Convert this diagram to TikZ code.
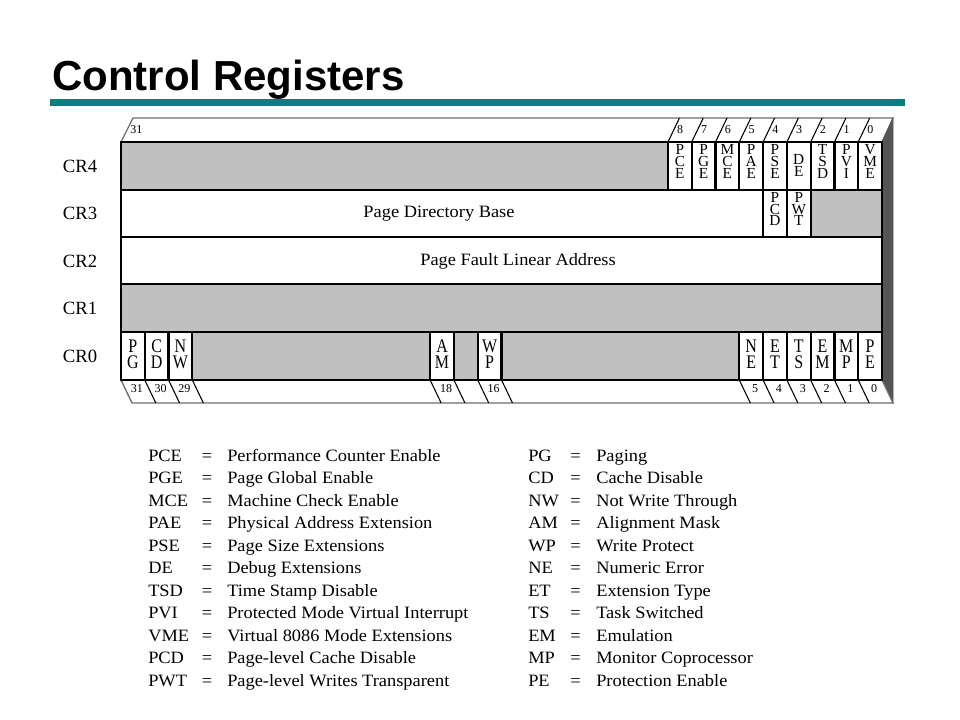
\documentclass[tikz,border=0pt]{standalone}
\usepackage{fontspec}
\setmainfont{Liberation Serif}
\setsansfont{Liberation Sans}
\newfontfamily\lgfont[FakeStretch=1.06]{Liberation Serif}
\definecolor{regray}{RGB}{192,192,192}
\definecolor{sidegray}{RGB}{85,85,85}
\definecolor{barteal}{RGB}{0,128,128}
\definecolor{facegray}{RGB}{110,110,110}
\newcommand\stackA[5]{\foreach \l [count=\j from 0] in {#5} {\node[ltA] (#1-\j) at (#2,{#3+\j*#4}) {\l};}}
\newcommand\stackB[5]{\foreach \l [count=\j from 0] in {#5} {\node[ltB] (#1-\j) at (#2,{#3+\j*#4}) {\scalebox{1}[1.2]{\l}};}}
\begin{document}
\begin{tikzpicture}[x=0.75pt,y=-0.75pt,
  front/.style={draw=black,line width=1.6pt},
  faceline/.style={draw=facegray,line width=1pt},
  slashline/.style={draw=black,line width=0.8pt},
  ltA/.style={font=\fontsize{11.5}{11.5}\selectfont,inner sep=0pt,anchor=base,text height=7.4pt,text depth=0pt},
  ltB/.style={font=\fontsize{12}{12}\selectfont,inner sep=0pt,anchor=base,text height=9.3pt,text depth=0pt},
  bitnum/.style={font=\fontsize{9}{9}\selectfont,inner sep=0pt},
  crlab/.style={font=\fontsize{14}{14}\selectfont,inner sep=0pt},
  widetxt/.style={font=\lgfont\fontsize{13}{13}\selectfont,inner sep=0pt},
  lgtxt/.style={font=\lgfont\fontsize{13}{13}\selectfont,inner sep=0pt,anchor=base west},
  lgeq/.style={font=\lgfont\fontsize{13}{13}\selectfont,inner sep=0pt,anchor=base}]
\useasboundingbox (0,0) rectangle (960,720);
\def\R{882}\def\W{23.78125}
% title
\node[font=\sffamily\bfseries\fontsize{31.5}{31.5}\selectfont,anchor=base west,inner sep=0pt] (title) at (52,91) {Control Registers};
\fill[barteal] (50,99) rectangle (905,106);
% faces
\path[faceline,fill=white] (121,142) -- (133,118) -- (893,118) -- (882,142) -- cycle;
\path[fill=sidegray,draw=sidegray] (882,142) -- (893,118) -- (893,403) -- (882,380) -- cycle;
\path[faceline,fill=white] (121,380) -- (882,380) -- (893,403) -- (132,403) -- cycle;
% fills
\fill[white] (121,142) rectangle (882,380);
\fill[regray] (121,142) rectangle ({\R-9*\W},190);
\fill[regray] ({\R-3*\W},190) rectangle (882,237);
\fill[regray] (121,284) rectangle (882,332);
\fill[regray] ({\R-29*\W},332) rectangle ({\R-19*\W},380);
\fill[regray] ({\R-18*\W},332) rectangle ({\R-17*\W},380);
\fill[regray] ({\R-16*\W},332) rectangle ({\R-6*\W},380);
% row lines
\foreach \y in {190,237,284,332} \draw[front] (121,\y) -- (882,\y);
% cell lines
\foreach \k in {1,...,9} \draw[front] ({\R-\k*\W},142) -- ({\R-\k*\W},190);
\foreach \k in {3,4,5} \draw[front] ({\R-\k*\W},190) -- ({\R-\k*\W},237);
\foreach \k in {1,...,6,16,17,18,19,29,30,31} \draw[front] ({\R-\k*\W},332) -- ({\R-\k*\W},380);
\draw[front] (121,142) rectangle (882,380);
% slashes
\foreach \k in {1,...,9} \draw[slashline] ({\R-\k*\W},142) -- ++(11.5,-24);
\foreach \k in {1,...,6,16,17,18,19,29,30,31} \draw[slashline] ({\R-\k*\W},380) -- ++(11,23);
% top bit numbers
\foreach \i in {0,...,8} \node[bitnum,anchor=west] (t\i) at ({\R-(\i+1)*\W+9},130) {\i};
\node[bitnum,anchor=west] (t31) at (130,130) {31};
% bottom bit numbers
\foreach \i in {0,...,5,16,18,29,30,31} \node[bitnum] (b\i) at ({\R-(\i+0.5)*\W+4},389) {\i};
% register labels
\node[crlab] (cr4) at (80,166) {CR4};
\node[crlab] (cr3) at (80,213.5) {CR3};
\node[crlab] (cr2) at (80,261) {CR2};
\node[crlab] (cr1) at (80,308) {CR1};
\node[crlab] (cr0) at (80,356) {CR0};
% CR4 cells
\stackA{pce}{\R-8.5*\W}{155}{11.6}{P,C,E}
\stackA{pge}{\R-7.5*\W}{155}{11.6}{P,G,E}
\stackA{mce}{\R-6.5*\W}{155}{11.6}{M,C,E}
\stackA{pae}{\R-5.5*\W}{155}{11.6}{P,A,E}
\stackA{pse}{\R-4.5*\W}{155}{11.6}{P,S,E}
\stackA{de}{\R-3.5*\W}{165}{11.8}{D,E}
\stackA{tsd}{\R-2.5*\W}{155}{11.6}{T,S,D}
\stackA{pvi}{\R-1.5*\W}{155}{11.6}{P,V,I}
\stackA{vme}{\R-0.5*\W}{155}{11.6}{V,M,E}
% CR3
\node[widetxt] (pdb) at (439,213.5) {Page Directory Base};
\stackA{pcd}{\R-4.5*\W}{203}{11.5}{P,C,D}
\stackA{pwt}{\R-3.5*\W}{203}{11.5}{P,W,T}
% CR2
\node[widetxt] (pfla) at (518,261) {Page Fault Linear Address};
% CR0 cells
\stackB{pg}{\R-31.5*\W}{352.5}{15.5}{P,G}
\stackB{cd}{\R-30.5*\W}{352.5}{15.5}{C,D}
\stackB{nw}{\R-29.5*\W}{352.5}{15.5}{N,W}
\stackB{am}{\R-18.5*\W}{352.5}{15.5}{A,M}
\stackB{wp}{\R-16.5*\W}{352.5}{15.5}{W,P}
\stackB{ne}{\R-5.5*\W}{352.5}{15.5}{N,E}
\stackB{et}{\R-4.5*\W}{352.5}{15.5}{E,T}
\stackB{ts}{\R-3.5*\W}{352.5}{15.5}{T,S}
\stackB{em}{\R-2.5*\W}{352.5}{15.5}{E,M}
\stackB{mp}{\R-1.5*\W}{352.5}{15.5}{M,P}
\stackB{pe}{\R-0.5*\W}{352.5}{15.5}{P,E}
% legend
\foreach \a/\d [count=\n from 0] in {PCE/Performance Counter Enable,PGE/Page Global Enable,MCE/Machine Check Enable,PAE/Physical Address Extension,PSE/Page Size Extensions,DE/Debug Extensions,TSD/Time Stamp Disable,PVI/Protected Mode Virtual Interrupt,VME/Virtual 8086 Mode Extensions,PCD/Page-level Cache Disable,PWT/Page-level Writes Transparent}{
  \node[lgtxt] (la\n) at (148,{461+\n*22.5}) {\a};
  \node[lgeq] (le\n) at (207,{461+\n*22.5}) {=};
  \node[lgtxt] (ld\n) at (227,{461+\n*22.5}) {\d};
}
\foreach \a/\d [count=\n from 0] in {PG/Paging,CD/Cache Disable,NW/Not Write Through,AM/Alignment Mask,WP/Write Protect,NE/Numeric Error,ET/Extension Type,TS/Task Switched,EM/Emulation,MP/Monitor Coprocessor,PE/Protection Enable}{
  \node[lgtxt] (ra\n) at (528,{461+\n*22.5}) {\a};
  \node[lgeq] (re\n) at (575.5,{461+\n*22.5}) {=};
  \node[lgtxt] (rd\n) at (596,{461+\n*22.5}) {\d};
}
\end{tikzpicture}
\end{document}
